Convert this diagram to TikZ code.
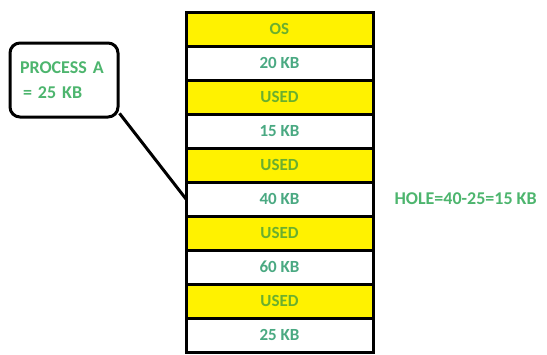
\documentclass[tikz,border=0pt]{standalone}
\usepackage{fontspec}
\setmainfont{Carlito}
\usetikzlibrary{positioning}
\definecolor{memyellow}{HTML}{FFF200}
\definecolor{labelgreen}{HTML}{4DB56E}
\definecolor{usedgreen}{HTML}{6AAF2E}
\definecolor{freegreen}{HTML}{4AA982}

\begin{document}
\begin{tikzpicture}[x=1pt,y=-1pt,font=\fontsize{17}{19}\selectfont\bfseries,node distance=0pt]
  \tikzset{memblock/.style={draw, line width=3pt, minimum width=187pt, minimum height=34pt, inner sep=0pt, outer sep=0pt}}
  \tikzset{usedblock/.style={memblock, fill=memyellow, text=usedgreen}}
  \tikzset{freeblock/.style={memblock, fill=white, text=freegreen}}
  \useasboundingbox (0,0) rectangle (547,354);
  \node[usedblock, anchor=north west] (r1) at (186,12) {OS};
  \node[freeblock, below=of r1] (r2) {20 KB};
  \node[usedblock, below=of r2] (r3) {USED};
  \node[freeblock, below=of r3] (r4) {15 KB};
  \node[usedblock, below=of r4] (r5) {USED};
  \node[freeblock, below=of r5] (r6) {40 KB};
  \node[usedblock, below=of r6] (r7) {USED};
  \node[freeblock, below=of r7] (r8) {60 KB};
  \node[usedblock, below=of r8] (r9) {USED};
  \node[freeblock, below=of r9] (r10) {25 KB};
  % process waiting for a hole
  \node[draw, line width=3pt, rounded corners=10pt, minimum width=108pt, minimum height=74pt, text width=88pt, align=left, text=labelgreen, font=\fontsize{18}{25}\selectfont\bfseries] (procA) at (64,80) {PROCESS A\\\,= 25 KB};
  \draw[line width=3pt] (procA.-31) -- (r6.west);
  \node[text=labelgreen, anchor=west, right=18pt of r6, font=\fontsize{18}{20}\selectfont\bfseries] (hole) {HOLE=40-25=15 KB};
\end{tikzpicture}
\end{document}
